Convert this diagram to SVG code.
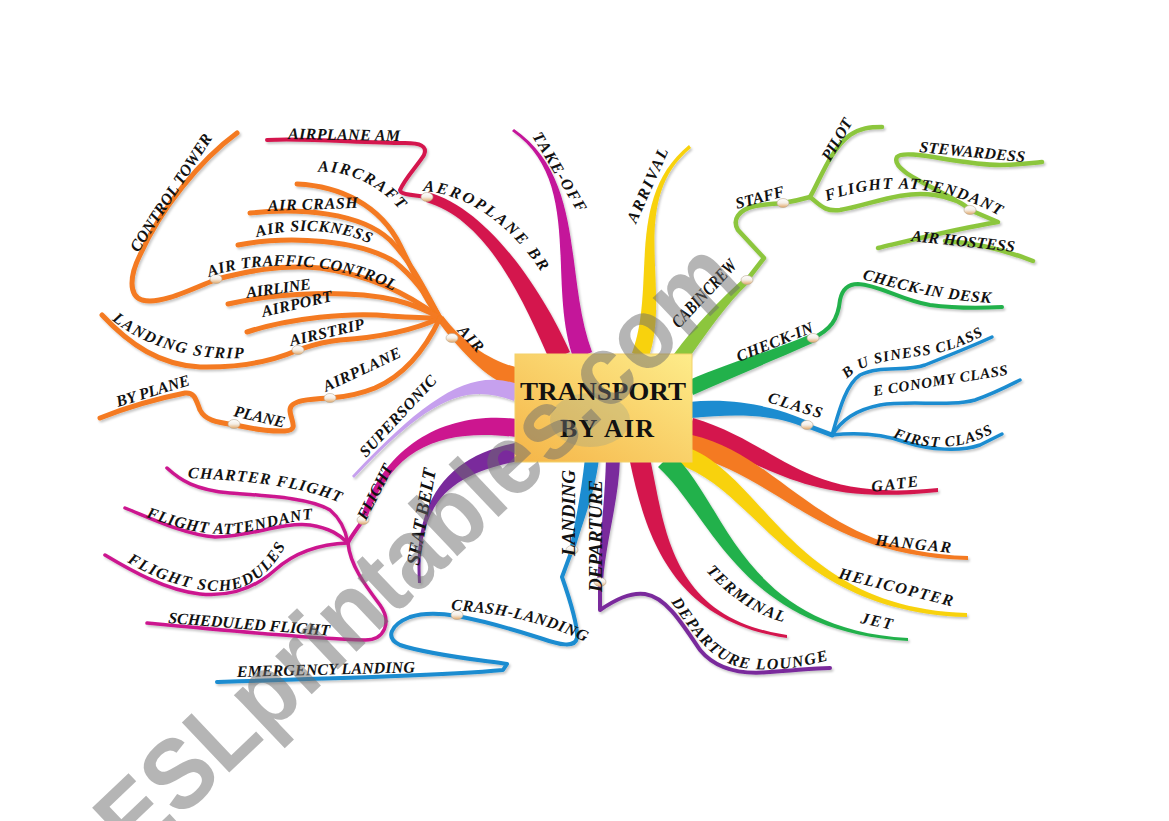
<svg xmlns="http://www.w3.org/2000/svg" xmlns:xlink="http://www.w3.org/1999/xlink" width="1169" height="821" viewBox="0 0 1169 821">
<style>
.lb{font-family:"Liberation Serif","Times New Roman",serif;font-weight:bold;font-style:italic;font-size:16px;fill:#111;}
.sm{font-size:15px;}
.big{font-size:19px;}
.ttl{font-family:"Liberation Serif","Times New Roman",serif;font-weight:bold;font-size:26px;fill:#111;}
.ln{fill:none;stroke-linecap:round;stroke-linejoin:round;}
.or{stroke:#f47a20;stroke-width:5;}
.cr{stroke:#d4164e;stroke-width:4;}
.lg{stroke:#8cc63e;stroke-width:4.5;}
.gr{stroke:#22b14c;stroke-width:4;}
.bl{stroke:#1a8cd0;stroke-width:4;}
.pu{stroke:#7a2c9c;stroke-width:4;}
.mg{stroke:#cc168f;stroke-width:4;}
.dot{fill:url(#dotg);stroke:#b8a890;stroke-width:0.6;}
.wm{font-family:"Liberation Sans",Arial,sans-serif;font-weight:bold;font-size:100px;fill:#6e6e6e;opacity:0.5;}
</style>
<defs>
<linearGradient id="boxg" x1="1" y1="0" x2="0" y2="1">
<stop offset="0" stop-color="#fdec8a"/>
<stop offset="1" stop-color="#f5b548"/>
</linearGradient>
<linearGradient id="dotg" x1="0" y1="0" x2="0" y2="1">
<stop offset="0" stop-color="#ffffff"/>
<stop offset="0.5" stop-color="#f4eee6"/>
<stop offset="1" stop-color="#e3a868"/>
</linearGradient>
<filter id="sh" x="-5%" y="-5%" width="110%" height="110%">
<feDropShadow dx="1.5" dy="2" stdDeviation="1" flood-color="#000" flood-opacity="0.22"/>
</filter>
<path id="p-aircraft" d="M318,172 C345,170 378,183 402,212 L410,222"/>
<path id="p-sick" d="M257,237 C290,228 340,228 372,245 L380,250"/>
<path id="p-atc" d="M209,277 C250,262 330,258 394,291 L402,296"/>
<path id="p-lstrip" d="M112,320 C140,343 185,361 248,358 L256,357"/>
<path id="p-aero" d="M423,191 C465,194 508,222 540,270 L545,278"/>
<path id="p-fatr" d="M827,201 C870,186 930,178 1000,216 L1008,221"/>
<path id="p-cidesk" d="M862,279 C900,290 940,300 990,303 L998,303"/>
<path id="p-bus" d="M847,379 C860,364 890,360 920,356 C950,352 970,343 986,334 L994,329"/>
<path id="p-first" d="M893,437 C920,450 960,452 995,432 L1002,428"/>
<path id="p-term" d="M706,571 C727,594 752,615 791,624 L799,625"/>
<path id="p-dlounge" d="M671,602 C691,630 711,665 750,669 C785,671 805,666 829,660 L837,658"/>
<path id="p-crash" d="M451,610 C490,612 540,620 583,641 L590,645"/>
<path id="p-charter" d="M188,478 C230,480 290,483 336,501 L346,506"/>
<path id="p-fal" d="M146,517 C175,527 200,535 232,534 C262,531 290,520 316,519 L326,519"/>
<path id="p-fsched" d="M127,562 C160,582 200,594 230,590 C255,586 272,570 285,547 L290,539"/>
</defs>
<rect width="1169" height="821" fill="#ffffff"/>

<g id="connectors" filter="url(#sh)">
<path fill="#f47a20" d="M519,368 C492,362 463,343 443,316 L437,320 C457,347 488,382 515,388 Z"/>
<path fill="#d4164e" d="M570,352 C545,296 491,210 428,192 L426,202 C489,220 525,305 550,361 Z"/>
<path fill="#c4129a" d="M592,352 C564,276 586,179 514,129 L512,131 C584,181 546,284 574,360 Z"/>
<path fill="#f8d20a" d="M648,359 C673,293 626,201 691,148 L689,145 C624,198 657,287 632,353 Z"/>
<path fill="#8cc63e" d="M686,362 C706,334 727,303 749,283 L745,277 C723,297 694,326 674,354 Z"/>
<path fill="#22b14c" d="M693,395 C733,377 777,359 815,342 L811,334 C773,351 727,363 687,381 Z"/>
<path fill="#1a8cd0" d="M691,418 C741,413 778,415 808,429 L812,423 C782,409 739,397 689,402 Z"/>
<path fill="#d4164e" d="M687,438 C777,465 800,506 938,492 L938,488 C800,503 783,445 693,418 Z"/>
<path fill="#f47a20" d="M688,455 C778,475 820,556 968,560 L968,556 C820,553 782,455 692,435 Z"/>
<path fill="#f8d20a" d="M677,464 C757,489 790,611 967,617 L967,613 C790,608 763,470 683,446 Z"/>
<path fill="#22b14c" d="M658,467 C713,517 740,631 908,641 L908,638 C740,628 727,503 672,453 Z"/>
<path fill="#d4164e" d="M630,462 C645,532 670,621 787,638 L787,635 C670,618 665,528 650,458 Z"/>
<path fill="#7a2c9c" d="M606,458 C605,500 600,540 597,582 L603,582 C606,540 619,500 620,458 Z"/>
<path fill="#1a8cd0" d="M585,458 C581,495 575,525 569,550 L575,550 C581,525 595,495 599,458 Z"/>
<path fill="#7a2c9c" d="M515,443 C448,456 413,500 418,583 L421,583 C416,500 452,474 519,461 Z"/>
<path fill="#cc168f" d="M518,419 C451,411 387,439 360,519 L366,521 C393,441 449,429 516,437 Z"/>
<path fill="#c6a0ee" d="M520,385 C473,367 429,394 352,476 L354,478 C431,396 467,383 514,401 Z"/>

<path class="ln or" d="M297,184 C340,186 380,205 400,245 C415,275 425,300 440,318"/>
<path class="ln or" d="M250,213 C300,208 360,212 390,240 C410,260 425,290 440,318"/>
<path class="ln or" d="M238,245 C290,235 360,240 395,262 C415,278 430,300 440,318"/>
<path class="ln or" d="M440,318 C410,295 370,275 320,268 C280,264 245,272 217,279 C190,290 160,305 142,300 C128,295 130,275 140,255 C160,210 200,160 237,133"/>
<path class="ln or" d="M228,304 C280,292 350,290 395,300 C415,305 430,312 440,318"/>
<path class="ln or" d="M247,332 C290,318 350,312 390,316 C410,317 428,318 440,318"/>
<path class="ln or" d="M440,318 C410,332 370,338 340,340 C320,342 310,346 298,350 C280,358 250,368 200,367 C160,365 130,345 102,315"/>
<path class="ln or" d="M440,318 C425,350 405,375 375,388 C360,394 345,397 330,398 C310,399 290,400 290,410 C290,420 300,430 285,431 C265,432 250,428 235,425 C215,422 205,420 200,410 C196,400 195,392 185,393 C150,400 120,410 100,418"/>

<path class="ln cr" d="M427,197 C415,195 400,195 400,190 C405,178 418,165 424,155 C428,146 420,143 405,143 C360,143 310,138 267,140"/>

<path class="ln lg" d="M747,280 L764,258 L738,230 C732,220 738,210 755,206 C765,204 775,204 783,203 C795,201 803,199 810,197"/>
<path class="ln lg" d="M810,197 C820,180 830,150 850,135 C860,128 870,127 882,127"/>
<path class="ln lg" d="M810,197 C820,205 825,212 840,210 C870,205 900,190 935,195 C955,198 965,205 970,210 L998,222 C960,228 920,238 878,248"/>
<path class="ln lg" d="M955,200 C930,185 890,170 897,157 C905,148 960,165 1000,165 C1020,165 1030,163 1042,162"/>
<path class="ln lg" d="M945,241 C980,243 1010,252 1033,261"/>

<path class="ln gr" d="M813,338 C830,330 838,320 840,300 C842,290 848,284 858,284 C880,285 900,300 930,305 C960,309 985,308 1002,307"/>

<path class="ln bl" style="stroke-width:5" d="M808,426 L832,435"/>
<path class="ln bl" style="stroke-width:3.5" d="M832,435 C838,415 845,385 860,375 C880,365 905,372 925,365 C950,355 975,345 992,337"/>
<path class="ln bl" style="stroke-width:3.5" d="M832,435 C842,420 855,410 880,405 C910,400 950,407 975,400 C995,393 1010,385 1020,380"/>
<path class="ln bl" style="stroke-width:3.5" d="M832,435 C860,432 885,435 905,442 C930,450 960,452 980,445 C990,440 996,437 1002,434"/>

<path class="ln pu" d="M600,582 L600,610 C615,600 630,592 645,594 C665,597 680,620 700,650 C715,668 740,675 770,672 C800,670 815,668 830,668"/>

<path class="ln bl" d="M572,550 L562,577 C570,600 578,625 577,638 C575,648 560,645 540,638 C515,630 490,622 457,616 C440,613 425,612 410,617 C390,625 385,638 400,645 C430,655 480,660 507,664 L503,670 C450,675 350,678 217,682"/>

<path class="ln mg" d="M363,520 C355,532 350,538 348,543"/>
<path class="ln mg" style="stroke-width:3.5" d="M167,468 C180,480 195,490 230,493 C270,496 310,498 330,510 C342,520 346,532 348,543"/>
<path class="ln mg" style="stroke-width:3.5" d="M125,508 C150,518 185,535 215,537 C250,537 280,522 310,525 C330,528 340,535 348,543"/>
<path class="ln mg" style="stroke-width:3.5" d="M348,543 C320,544 295,552 275,570 C255,588 230,597 200,594 C165,590 130,570 105,555"/>
<path class="ln mg" style="stroke-width:3.5" d="M348,543 C350,565 365,585 380,605 C392,622 385,640 365,640 C320,639 220,630 147,623"/>
</g>

<g id="n-center">
<rect x="515" y="354" width="177" height="108" fill="url(#boxg)" stroke="#f3d26a" stroke-width="1"/>
<ellipse cx="590" cy="420" rx="40" ry="27" fill="#93a08a" opacity="0.3"/>
<text class="ttl" x="603" y="400" text-anchor="middle" textLength="166" lengthAdjust="spacingAndGlyphs">TRANSPORT</text>
<text class="ttl" x="607" y="437" text-anchor="middle" textLength="94" lengthAdjust="spacing">BY  AIR</text>
</g>

<g id="n-air">
<ellipse class="dot" cx="452" cy="338" rx="6" ry="4.5"/>
<text class="lb" x="457" y="331" transform="rotate(48 457 331)" textLength="30" lengthAdjust="spacing">AIR</text>
</g>
<g id="n-aircraft"><text class="lb" letter-spacing="1.9"><textPath href="#p-aircraft">AIRCRAFT</textPath></text></g>
<g id="n-aircrash"><text class="lb" x="268" y="211" transform="rotate(-2 268 211)" textLength="90" lengthAdjust="spacing">AIR CRASH</text></g>
<g id="n-airsickness"><text class="lb" letter-spacing="0.6"><textPath href="#p-sick">AIR SICKNESS</textPath></text></g>
<g id="n-atc">
<ellipse class="dot" cx="216" cy="279" rx="6" ry="4.5"/>
<text class="lb" letter-spacing="0.5"><textPath href="#p-atc">AIR TRAFFIC CONTROL</textPath></text>
</g>
<g id="n-controltower"><text class="lb" x="138" y="253" transform="rotate(-57 138 253)" textLength="137" lengthAdjust="spacing">CONTROL TOWER</text></g>
<g id="n-airline"><text class="lb" x="247" y="298" transform="rotate(-8 247 298)" textLength="65" lengthAdjust="spacing">AIRLINE</text></g>
<g id="n-airport"><text class="lb" x="263" y="317" transform="rotate(-13 263 317)" textLength="72" lengthAdjust="spacing">AIRPORT</text></g>
<g id="n-airstrip">
<ellipse class="dot" cx="298" cy="350" rx="6" ry="4.5"/>
<text class="lb" x="291" y="346" transform="rotate(-13 291 346)" textLength="76" lengthAdjust="spacing">AIRSTRIP</text>
</g>
<g id="n-landingstrip"><text class="lb" letter-spacing="1.5"><textPath href="#p-lstrip">LANDING STRIP</textPath></text></g>
<g id="n-airplane">
<ellipse class="dot" cx="330" cy="398" rx="6" ry="4.5"/>
<text class="lb" x="326" y="392" transform="rotate(-25 326 392)" textLength="84" lengthAdjust="spacing">AIRPLANE</text>
</g>
<g id="n-plane">
<ellipse class="dot" cx="234" cy="424" rx="6" ry="4.5"/>
<text class="lb" x="233" y="416" transform="rotate(13 233 416)" textLength="52" lengthAdjust="spacing">PLANE</text>
</g>
<g id="n-byplane"><text class="lb" x="118" y="407" transform="rotate(-17 118 407)" textLength="76" lengthAdjust="spacing">BY PLANE</text></g>

<g id="n-aeroplane">
<ellipse class="dot" cx="427" cy="197" rx="6" ry="4.5"/>
<text class="lb" letter-spacing="2.4"><textPath href="#p-aero">AEROPLANE BR</textPath></text>
</g>
<g id="n-airplaneam"><text class="lb" x="288" y="139" transform="rotate(1 288 139)" textLength="112" lengthAdjust="spacing">AIRPLANE AM</text></g>
<g id="n-takeoff"><text class="lb" x="532" y="136" transform="rotate(59 532 136)" textLength="90" lengthAdjust="spacing">TAKE-OFF</text></g>
<g id="n-arrival"><text class="lb" x="636" y="224" transform="rotate(-66 636 224)" textLength="80" lengthAdjust="spacing">ARRIVAL</text></g>

<g id="n-cabincrew">
<ellipse class="dot" cx="747" cy="280" rx="6" ry="4.5"/>
<text class="lb" style="font-size:18px" x="679" y="329" transform="rotate(-47 679 329)" textLength="86" lengthAdjust="spacingAndGlyphs">CABINCREW</text>
</g>
<g id="n-staff">
<ellipse class="dot" cx="783" cy="203" rx="6" ry="4.5"/>
<text class="lb" x="737" y="209" transform="rotate(-15 737 209)" textLength="50" lengthAdjust="spacing">STAFF</text>
</g>
<g id="n-pilot"><text class="lb" x="830" y="162" transform="rotate(-60 830 162)" textLength="46" lengthAdjust="spacing">PILOT</text></g>
<g id="n-flightattendant-r">
<ellipse class="dot" cx="970" cy="210" rx="6" ry="4.5"/>
<text class="lb" letter-spacing="1.3"><textPath href="#p-fatr">FLIGHT ATTENDANT</textPath></text>
</g>
<g id="n-stewardess"><text class="lb" x="919" y="152" transform="rotate(5.5 919 152)" textLength="106" lengthAdjust="spacing">STEWARDESS</text></g>
<g id="n-airhostess"><text class="lb" x="911" y="241" transform="rotate(6 911 241)" textLength="104" lengthAdjust="spacing">AIR HOSTESS</text></g>

<g id="n-checkin">
<ellipse class="dot" cx="813" cy="338" rx="6" ry="4.5"/>
<text class="lb" x="739" y="362" transform="rotate(-22 739 362)" textLength="81" lengthAdjust="spacing">CHECK-IN</text>
</g>
<g id="n-checkindesk"><text class="lb" letter-spacing="0.6"><textPath href="#p-cidesk">CHECK-IN DESK</textPath></text></g>
<g id="n-class">
<ellipse class="dot" cx="807" cy="425" rx="6" ry="4.5"/>
<text class="lb" x="767" y="402" transform="rotate(17 767 402)" textLength="56" lengthAdjust="spacing">CLASS</text>
</g>
<g id="n-business"><text class="lb sm" letter-spacing="1"><textPath href="#p-bus">B U SINESS CLASS</textPath></text></g>
<g id="n-economy"><text class="lb sm" x="874" y="396" transform="rotate(-9 874 396)" textLength="136" lengthAdjust="spacing">E CONOMY CLASS</text></g>
<g id="n-first"><text class="lb sm" letter-spacing="1.1"><textPath href="#p-first">FIRST CLASS</textPath></text></g>

<g id="n-gate"><text class="lb" x="872" y="492" transform="rotate(-7 872 492)" textLength="47" lengthAdjust="spacing">GATE</text></g>
<g id="n-hangar"><text class="lb" x="875" y="545" transform="rotate(6 875 545)" textLength="76" lengthAdjust="spacing">HANGAR</text></g>
<g id="n-helicopter"><text class="lb" x="838" y="578" transform="rotate(14 838 578)" textLength="117" lengthAdjust="spacing">HELICOPTER</text></g>
<g id="n-jet"><text class="lb" x="860" y="623" transform="rotate(12 860 623)" textLength="32" lengthAdjust="spacing">JET</text></g>
<g id="n-terminal"><text class="lb" letter-spacing="1.5"><textPath href="#p-term">TERMINAL</textPath></text></g>

<g id="n-departure">
<ellipse class="dot" cx="600" cy="582" rx="6" ry="4.5"/>
<text class="lb big" x="602" y="592" transform="rotate(-90 602 592)" textLength="112" lengthAdjust="spacing">DEPARTURE</text>
</g>
<g id="n-departurelounge"><text class="lb" letter-spacing="1.4"><textPath href="#p-dlounge">DEPARTURE LOUNGE</textPath></text></g>
<g id="n-landing">
<ellipse class="dot" cx="572" cy="550" rx="6" ry="4.5"/>
<text class="lb big" x="575" y="556" transform="rotate(-90 575 556)" textLength="86" lengthAdjust="spacing">LANDING</text>
</g>
<g id="n-crashlanding">
<ellipse class="dot" cx="457" cy="615" rx="6" ry="4.5"/>
<text class="lb" letter-spacing="0.6"><textPath href="#p-crash">CRASH-LANDING</textPath></text>
</g>
<g id="n-emergency"><text class="lb" x="237" y="677" transform="rotate(-1.5 237 677)" textLength="178" lengthAdjust="spacing">EMERGENCY LANDING</text></g>
<g id="n-seatbelt"><text class="lb big" x="419" y="566" transform="rotate(-80 419 566)" textLength="98" lengthAdjust="spacing">SEAT BELT</text></g>
<g id="n-supersonic"><text class="lb" x="366" y="458" transform="rotate(-47 366 458)" textLength="105" lengthAdjust="spacing">SUPERSONIC</text></g>
<g id="n-flight">
<ellipse class="dot" cx="363" cy="520" rx="6" ry="4.5"/>
<text class="lb" x="366" y="521" transform="rotate(-63 366 521)" textLength="60" lengthAdjust="spacing">FLIGHT</text>
</g>
<g id="n-charter"><text class="lb" letter-spacing="1.1"><textPath href="#p-charter">CHARTER FLIGHT</textPath></text></g>
<g id="n-flightattendant-l"><text class="lb" letter-spacing="0.75"><textPath href="#p-fal">FLIGHT ATTENDANT</textPath></text></g>
<g id="n-flightschedules"><text class="lb" letter-spacing="1.5"><textPath href="#p-fsched">FLIGHT SCHEDULES</textPath></text></g>
<g id="n-scheduled"><text class="lb" x="168" y="623" transform="rotate(4.5 168 623)" textLength="162" lengthAdjust="spacing">SCHEDULED FLIGHT</text></g>

<g id="watermark">
<text class="wm" x="135" y="862" transform="rotate(-43.5 135 862)" textLength="840" lengthAdjust="spacingAndGlyphs">ESLprintables.com</text>
</g>
</svg>
